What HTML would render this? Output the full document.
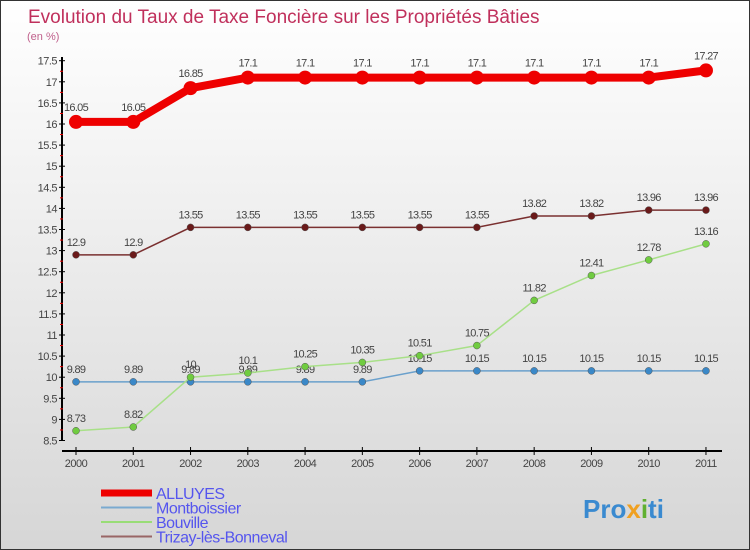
<!DOCTYPE html>
<html><head><meta charset="utf-8"><style>
body{margin:0}
#c{width:750px;height:550px;position:relative;overflow:hidden;box-sizing:border-box;border:1px solid #333;background:linear-gradient(#ffffff,#d6d6d6);font-family:"Liberation Sans",sans-serif}
</style></head><body>
<div id="c">
<svg id="s" width="750" height="550" style="position:absolute;left:0;top:0">
<text x="27" y="22" font-size="19" fill="#c0305c">Evolution du Taux de Taxe Foncière sur les Propriétés Bâties</text>
<text x="26" y="39" font-size="11" fill="#c0608c">(en %)</text>
<text x="582" y="517" font-size="26" font-weight="bold" fill="#3a8ad0">Pro<tspan fill="#f0a020">x</tspan><tspan fill="#60b030">i</tspan>ti</text>
</svg>
</div>
<script>
const years=["2000","2001","2002","2003","2004","2005","2006","2007","2008","2009","2010","2011"];
const alluyes=[16.05,16.05,16.85,17.1,17.1,17.1,17.1,17.1,17.1,17.1,17.1,17.27];
const montboissier=[9.89,9.89,9.89,9.89,9.89,9.89,10.15,10.15,10.15,10.15,10.15,10.15];
const bouville=[8.73,8.82,10,10.1,10.25,10.35,10.51,10.75,11.82,12.41,12.78,13.16];
const trizay=[12.9,12.9,13.55,13.55,13.55,13.55,13.55,13.55,13.82,13.82,13.96,13.96];
const yTicks=[8.5,9,9.5,10,10.5,11,11.5,12,12.5,13,13.5,14,14.5,15,15.5,16,16.5,17,17.5];
const NS="http://www.w3.org/2000/svg",svg=document.getElementById('s');
const x=i=>75+i*57.27, y=v=>439.5-(v-8.5)*42.2;
function el(t,a,p){const e=document.createElementNS(NS,t);for(const k in a)e.setAttribute(k,a[k]);(p||svg).appendChild(e);return e;}
const ax=el('g',{});


el('line',{x1:61,y1:56,x2:61,y2:440,stroke:'#000','stroke-width':2},ax);
el('line',{x1:61,y1:450,x2:721,y2:450,stroke:'#000','stroke-width':2},ax);
yTicks.forEach(v=>{
 el('line',{x1:58,y1:y(v),x2:64,y2:y(v),stroke:'#000'},ax);
 if(v<17.5)el('line',{x1:59,y1:y(v+0.25),x2:62,y2:y(v+0.25),stroke:'#e00'},ax);
 const t=el('text',{x:56,y:y(v)+4,'font-size':11,fill:'#444','text-anchor':'end','letter-spacing':'-0.5'},ax);
 
 
 t.textContent=String(v);
});
years.forEach((yr,i)=>{
 el('line',{x1:x(i),y1:446,x2:x(i),y2:454,stroke:'#000'},ax);
 const t=el('text',{x:x(i),y:466,'font-size':11,fill:'#444','text-anchor':'middle','letter-spacing':'-0.5'},ax);
 
 
 t.textContent=yr;
});
function series(d,name,col,w,r,dot){
 const g=el('g',{});
 
 
 el('polyline',{points:d.map((v,i)=>x(i)+','+y(v)).join(' '),fill:'none',stroke:col,'stroke-width':w},g);
 d.forEach((v,i)=>{
  const c=el('circle',{cx:x(i),cy:y(v),r:r,fill:dot,stroke:col==dot?'none':'#555','stroke-width':0.5},g);
  
  
  const t=el('text',{x:x(i),y:y(v)-(w>4?11:9),'font-size':11,fill:'#444','text-anchor':'middle','letter-spacing':'-0.7'},g);
  
  
  t.textContent=String(v);
 });
}
series(trizay,'trizay','#7a3030',1.5,3.5,'#6a1a1a');
series(montboissier,'montboissier','#6aa0cc',1.5,3.5,'#3a88c8');
series(bouville,'bouville','#a8e088',1.5,3.5,'#70cc40');
series(alluyes,'alluyes','#ee0000',8,7,'#ee0000');
const leg=[["ALLUYES","#ee0000",7],["Montboissier","#7aaad0",2],["Bouville","#99dd77",2],["Trizay-lès-Bonneval","#996666",2]];
leg.forEach((l,i)=>{
 const g=el('g',{});
 
 
 const yy=492+i*14.5;
 el('line',{x1:100,y1:yy,x2:151,y2:yy,stroke:l[1],'stroke-width':l[2]},g);
 const t=el('text',{x:155,y:yy+6,'font-size':16,fill:'#5555ee','letter-spacing':'-0.5'},g);
 t.textContent=l[0];
});
</script>
</body></html>
